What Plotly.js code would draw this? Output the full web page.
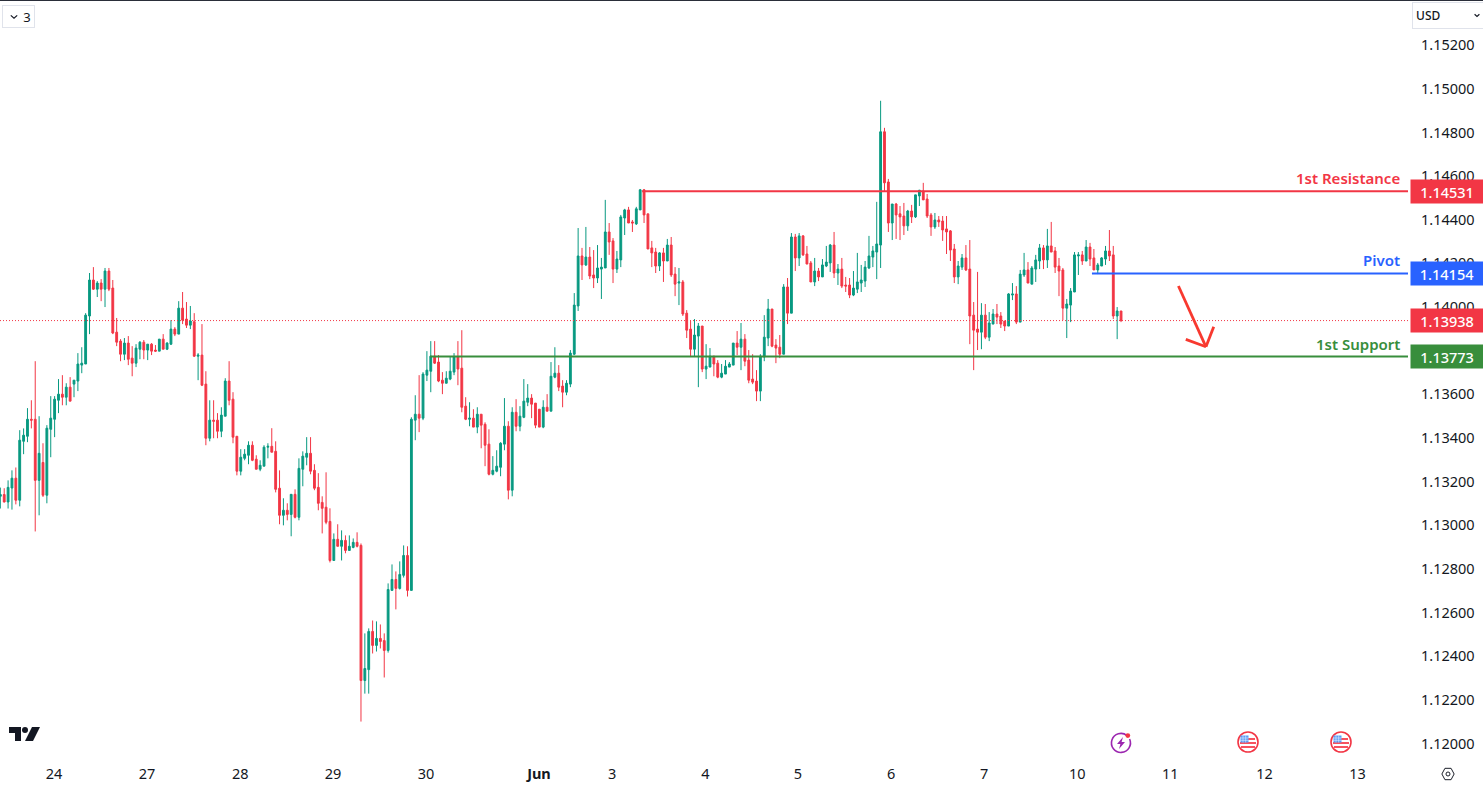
<!DOCTYPE html>
<html><head><meta charset="utf-8">
<script src="https://cdn.plot.ly/plotly-3.0.1.min.js"></script>
<style>html,body{margin:0;padding:0;background:#fff;overflow:hidden}
#top{position:absolute;left:0;top:0;width:1483px;height:1px;background:#2a2e39}
#chart{position:absolute;left:0;top:0;width:1483px;height:787px}
svg.ic{position:absolute;overflow:visible}</style></head>
<body>
<div id="chart"></div><div id="top"></div>
<svg class="ic" style="left:9px;top:726px" width="31" height="16" viewBox="0 0 31 16"><path fill="#131722" d="M0 1h12v14H6V7H0z"/><circle cx="16" cy="4" r="3" fill="#131722"/><path fill="#131722" d="M23 1h8l-7 14h-8z"/></svg>
<svg class="ic" style="left:1110px;top:732px" width="22" height="22" viewBox="0 0 22 22"><path d="M17 3.600A9.500 9.500 0 1 0 19.600 7" fill="none" stroke="#9c27b0" stroke-width="1.600"/><path fill="#9c27b0" d="M13 5l-6 7h3.400l-1.400 5 6-7h-3.400z"/><circle cx="17.800" cy="3.600" r="2.400" fill="#f23645"/></svg>
<svg class="ic" style="left:1237px;top:731px" width="22" height="22" viewBox="0 0 22 22"><defs><g id="flag"><circle cx="11" cy="11" r="10" fill="#fff" stroke="#f23645" stroke-width="1.600"/><path fill="#f7525f" d="M4 7h14v2H4zM3 11h16v2H3zM4 15h14v2H4z"/><path fill="#5b9cf6" d="M3.500 4.500h8v7h-8z"/><path stroke="#fff" stroke-width=".5" d="M3.500 7h8M3.500 9.300h8M6 4.500v7M8.700 4.500v7"/></g></defs><use href="#flag"/></svg>
<svg class="ic" style="left:1330px;top:731px" width="22" height="22" viewBox="0 0 22 22"><use href="#flag"/></svg>
<svg class="ic" style="left:1441px;top:766.500px" width="14" height="14" viewBox="0 0 16 16"><path fill="none" stroke="#131722" stroke-width="1.100" d="M4.500 1.500h7L15 8l-3.500 6.500h-7L1 8z"/><circle cx="8" cy="8" r="2.300" fill="none" stroke="#131722" stroke-width="1.100"/></svg>
<svg class="ic" style="left:10px;top:13.500px" width="8" height="6" viewBox="0 0 10 7"><path d="M1 1.500l4 3.500 4-3.500" fill="none" stroke="#131722" stroke-width="1.500"/></svg>
<svg class="ic" style="left:1474px;top:13px" width="6" height="5" viewBox="0 0 10 7"><path d="M1 1.500l4 3.500 4-3.500" fill="none" stroke="#131722" stroke-width="2"/></svg>
<script>
const opens=[1.13133,1.13141,1.13107,1.13171,1.13216,1.13115,1.13385,1.13408,1.13486,1.13486,
1.13206,1.13288,1.13138,1.13440,1.13486,1.13573,1.13601,1.13587,1.13633,1.13647,
1.13661,1.13734,1.13739,1.13959,1.14124,1.14082,1.14110,1.14082,1.14165,1.14087,
1.13885,1.13844,1.13784,1.13835,1.13766,1.13743,1.13807,1.13839,1.13803,1.13830,
1.13803,1.13798,1.13853,1.13807,1.13830,1.13899,1.13876,1.13995,1.13945,1.13917,
1.13933,1.13775,1.13780,1.13647,1.13399,1.13482,1.13482,1.13431,1.13500,1.13661,
1.13578,1.13408,1.13248,1.13307,1.13321,1.13367,1.13303,1.13257,1.13271,1.13358,
1.13362,1.13339,1.13170,1.13046,1.13069,1.13050,1.13142,1.13037,1.13257,1.13312,
1.13330,1.13252,1.13174,1.13105,1.13083,1.13018,1.12839,1.12936,1.12904,1.12931,
1.12885,1.12899,1.12922,1.12908,1.12289,1.12339,1.12514,1.12450,1.12482,1.12472,
1.12427,1.12702,1.12752,1.12711,1.12771,1.12862,1.12702,1.13482,1.13509,1.13491,
1.13688,1.13706,1.13775,1.13748,1.13665,1.13651,1.13670,1.13702,1.13771,1.13720,
1.13546,1.13486,1.13491,1.13450,1.13509,1.13463,1.13372,1.13234,1.13248,1.13266,
1.13372,1.13454,1.13161,1.13518,1.13454,1.13495,1.13564,1.13583,1.13560,1.13532,
1.13450,1.13541,1.13523,1.13679,1.13697,1.13638,1.13610,1.13647,1.13784,1.14005,
1.14234,1.14193,1.14229,1.14147,1.14133,1.14174,1.14179,1.14344,1.14303,1.14174,
1.14216,1.14408,1.14445,1.14390,1.14381,1.14445,1.14537,1.14427,1.14271,1.14252,
1.14188,1.14248,1.14211,1.14284,1.14151,1.14110,1.14115,1.13972,1.13899,1.13807,
1.13867,1.13913,1.13716,1.13725,1.13775,1.13743,1.13679,1.13693,1.13725,1.13734,
1.13835,1.13816,1.13853,1.13757,1.13670,1.13661,1.13615,1.13771,1.13858,1.13991,
1.13826,1.13816,1.13784,1.14092,1.13972,1.14321,1.14225,1.14326,1.14243,1.14202,
1.14115,1.14165,1.14138,1.14188,1.14202,1.14284,1.14156,1.14174,1.14101,1.14101,
1.14055,1.14082,1.14110,1.14119,1.14179,1.14229,1.14252,1.14284,1.14803,1.14573,
1.14385,1.14472,1.14427,1.14417,1.14372,1.14440,1.14413,1.14509,1.14532,1.14495,
1.14422,1.14367,1.14399,1.14394,1.14358,1.14349,1.14266,1.14138,1.14183,1.14225,
1.14174,1.13963,1.13899,1.13885,1.13963,1.13862,1.13922,1.13968,1.13959,1.13936,
1.13913,1.14055,1.14060,1.13931,1.14147,1.14170,1.14105,1.14174,1.14211,1.14271,
1.14216,1.14280,1.14257,1.14188,1.14170,1.13995,1.14009,1.14069,1.14234,1.14239,
1.14211,1.14275,1.14225,1.14170,1.14188,1.14220,1.14257,1.14239,1.13959,1.13982];
const highs=[1.13173,1.13170,1.13206,1.13252,1.13265,1.13436,1.13444,1.13537,1.13573,1.13752,
1.13500,1.13376,1.13459,1.13592,1.13592,1.13670,1.13688,1.13651,1.13679,1.13665,
1.13789,1.13816,1.13972,1.14156,1.14183,1.14119,1.14128,1.14179,1.14179,1.14124,
1.13950,1.13853,1.13858,1.13867,1.13821,1.13830,1.13844,1.13849,1.13830,1.13835,
1.13826,1.13853,1.13876,1.13839,1.13940,1.13908,1.14027,1.14069,1.14023,1.14005,
1.13972,1.13789,1.13922,1.13706,1.13573,1.13573,1.13514,1.13541,1.13674,1.13752,
1.13610,1.13408,1.13349,1.13349,1.13385,1.13385,1.13321,1.13298,1.13367,1.13376,
1.13445,1.13385,1.13252,1.13124,1.13101,1.13142,1.13165,1.13307,1.13339,1.13404,
1.13404,1.13280,1.13239,1.13133,1.13243,1.13078,1.12963,1.13005,1.12977,1.12954,
1.12954,1.12940,1.12968,1.12917,1.12505,1.12528,1.12564,1.12560,1.12546,1.12505,
1.12734,1.12821,1.12789,1.12835,1.12908,1.12904,1.13495,1.13596,1.13688,1.13702,
1.13798,1.13844,1.13844,1.13780,1.13702,1.13706,1.13771,1.13789,1.13844,1.13894,
1.13587,1.13564,1.13532,1.13541,1.13509,1.13472,1.13440,1.13317,1.13344,1.13381,
1.13583,1.13477,1.13541,1.13578,1.13546,1.13670,1.13647,1.13601,1.13560,1.13532,
1.13573,1.13601,1.13748,1.13816,1.13734,1.13665,1.13665,1.13803,1.14064,1.14362,
1.14271,1.14367,1.14275,1.14261,1.14284,1.14225,1.14491,1.14385,1.14316,1.14257,
1.14422,1.14450,1.14459,1.14399,1.14459,1.14541,1.14541,1.14427,1.14303,1.14271,
1.14252,1.14271,1.14312,1.14321,1.14183,1.14179,1.14124,1.13986,1.13936,1.13945,
1.13927,1.13913,1.13830,1.13812,1.13775,1.13757,1.13739,1.13757,1.13748,1.13835,
1.13890,1.13927,1.13876,1.13803,1.13784,1.13711,1.13784,1.13963,1.14037,1.13991,
1.13853,1.13872,1.14105,1.14133,1.14339,1.14335,1.14339,1.14330,1.14280,1.14211,
1.14225,1.14179,1.14220,1.14280,1.14289,1.14344,1.14197,1.14225,1.14138,1.14133,
1.14165,1.14248,1.14193,1.14211,1.14326,1.14280,1.14482,1.14945,1.14821,1.14587,
1.14472,1.14477,1.14463,1.14477,1.14445,1.14468,1.14514,1.14537,1.14569,1.14518,
1.14431,1.14431,1.14417,1.14417,1.14417,1.14353,1.14289,1.14211,1.14243,1.14284,
1.14307,1.14023,1.14161,1.14018,1.14014,1.13977,1.13991,1.14014,1.13977,1.13936,
1.14064,1.14110,1.14096,1.14170,1.14248,1.14206,1.14188,1.14239,1.14289,1.14284,
1.14358,1.14390,1.14275,1.14225,1.14179,1.14037,1.14087,1.14252,1.14252,1.14257,
1.14307,1.14294,1.14266,1.14202,1.14229,1.14280,1.14353,1.14280,1.14000,1.13982];
const lows=[1.13077,1.13105,1.13077,1.13072,1.13096,1.13087,1.13326,1.13381,1.13444,1.12972,
1.13046,1.13130,1.13101,1.13312,1.13404,1.13514,1.13550,1.13550,1.13569,1.13587,
1.13615,1.13697,1.13739,1.13876,1.14078,1.14046,1.14027,1.14000,1.14073,1.13876,
1.13821,1.13752,1.13757,1.13734,1.13683,1.13725,1.13761,1.13761,1.13757,1.13780,
1.13794,1.13798,1.13807,1.13803,1.13826,1.13867,1.13876,1.13922,1.13904,1.13899,
1.13771,1.13665,1.13638,1.13367,1.13385,1.13399,1.13399,1.13404,1.13500,1.13550,
1.13376,1.13229,1.13229,1.13298,1.13280,1.13294,1.13257,1.13248,1.13271,1.13307,
1.13335,1.13151,1.13005,1.13000,1.13023,1.12950,1.13032,1.13023,1.13179,1.13275,
1.13234,1.13161,1.13069,1.12963,1.13005,1.12830,1.12839,1.12904,1.12839,1.12872,
1.12885,1.12895,1.12899,1.12101,1.12229,1.12229,1.12413,1.12422,1.12436,1.12303,
1.12417,1.12702,1.12615,1.12706,1.12761,1.12674,1.12702,1.13390,1.13427,1.13482,
1.13661,1.13610,1.13739,1.13656,1.13601,1.13651,1.13665,1.13688,1.13642,1.13518,
1.13482,1.13454,1.13450,1.13422,1.13353,1.13271,1.13229,1.13229,1.13243,1.13225,
1.13344,1.13119,1.13133,1.13431,1.13431,1.13491,1.13546,1.13491,1.13445,1.13450,
1.13445,1.13523,1.13523,1.13674,1.13615,1.13541,1.13596,1.13633,1.13780,1.13982,
1.14124,1.14188,1.14128,1.14087,1.14110,1.14037,1.14179,1.14239,1.14110,1.14156,
1.14183,1.14330,1.14385,1.14344,1.14376,1.14445,1.14385,1.14266,1.14183,1.14156,
1.14165,1.14115,1.14211,1.14138,1.14050,1.14009,1.13959,1.13858,1.13771,1.13771,
1.13633,1.13702,1.13670,1.13725,1.13683,1.13674,1.13674,1.13693,1.13725,1.13734,
1.13780,1.13711,1.13729,1.13651,1.13647,1.13569,1.13569,1.13752,1.13821,1.13816,
1.13743,1.13766,1.13784,1.13922,1.13972,1.14165,1.14188,1.14234,1.14197,1.14115,
1.14096,1.14119,1.14138,1.14183,1.14161,1.14133,1.14101,1.14087,1.14069,1.14041,
1.14050,1.14064,1.14069,1.14092,1.14174,1.14183,1.14128,1.14179,1.14532,1.14344,
1.14307,1.14312,1.14307,1.14330,1.14349,1.14385,1.14408,1.14463,1.14491,1.14408,
1.14326,1.14358,1.14367,1.14303,1.14243,1.14211,1.14110,1.14105,1.14170,1.14165,
1.13830,1.13711,1.13803,1.13807,1.13853,1.13844,1.13922,1.13922,1.13904,1.13890,
1.13913,1.14032,1.13922,1.13931,1.14138,1.14110,1.14105,1.14115,1.14174,1.14174,
1.14179,1.14252,1.14156,1.14050,1.13940,1.13858,1.13931,1.14069,1.14147,1.14193,
1.14211,1.14188,1.14170,1.14151,1.14188,1.14193,1.14211,1.13945,1.13853,1.13931];
const closes=[1.13141,1.13107,1.13174,1.13216,1.13115,1.13390,1.13413,1.13486,1.13482,1.13206,
1.13330,1.13138,1.13445,1.13491,1.13578,1.13601,1.13587,1.13633,1.13569,1.13665,
1.13739,1.13743,1.13963,1.14124,1.14082,1.14110,1.14082,1.14165,1.14082,1.13881,
1.13839,1.13784,1.13835,1.13761,1.13743,1.13812,1.13839,1.13803,1.13830,1.13798,
1.13798,1.13853,1.13807,1.13835,1.13899,1.13876,1.13995,1.13940,1.13917,1.13936,
1.13775,1.13780,1.13642,1.13399,1.13482,1.13477,1.13431,1.13505,1.13661,1.13573,
1.13404,1.13248,1.13312,1.13326,1.13367,1.13298,1.13257,1.13275,1.13358,1.13362,
1.13335,1.13165,1.13046,1.13069,1.13050,1.13142,1.13037,1.13261,1.13317,1.13330,
1.13248,1.13170,1.13101,1.13078,1.13014,1.12839,1.12936,1.12904,1.12931,1.12885,
1.12904,1.12922,1.12904,1.12289,1.12344,1.12514,1.12450,1.12482,1.12468,1.12427,
1.12706,1.12752,1.12711,1.12775,1.12862,1.12702,1.13486,1.13509,1.13491,1.13693,
1.13711,1.13775,1.13743,1.13661,1.13651,1.13674,1.13706,1.13771,1.13716,1.13541,
1.13486,1.13491,1.13450,1.13509,1.13459,1.13367,1.13234,1.13252,1.13271,1.13376,
1.13454,1.13161,1.13518,1.13454,1.13500,1.13569,1.13583,1.13555,1.13459,1.13450,
1.13541,1.13523,1.13683,1.13697,1.13633,1.13610,1.13651,1.13789,1.14009,1.14234,
1.14193,1.14229,1.14142,1.14133,1.14179,1.14183,1.14344,1.14298,1.14174,1.14220,
1.14413,1.14445,1.14385,1.14385,1.14450,1.14537,1.14422,1.14266,1.14248,1.14188,
1.14248,1.14211,1.14284,1.14147,1.14105,1.14115,1.13968,1.13894,1.13807,1.13872,
1.13913,1.13716,1.13729,1.13775,1.13739,1.13679,1.13697,1.13729,1.13739,1.13835,
1.13816,1.13853,1.13752,1.13665,1.13656,1.13615,1.13775,1.13862,1.13991,1.13821,
1.13812,1.13784,1.14092,1.13972,1.14321,1.14225,1.14326,1.14239,1.14197,1.14115,
1.14165,1.14138,1.14193,1.14206,1.14284,1.14156,1.14174,1.14096,1.14096,1.14055,
1.14087,1.14115,1.14124,1.14183,1.14234,1.14257,1.14289,1.14803,1.14569,1.14385,
1.14472,1.14422,1.14413,1.14372,1.14440,1.14413,1.14514,1.14535,1.14491,1.14417,
1.14367,1.14399,1.14390,1.14353,1.14344,1.14261,1.14138,1.14188,1.14225,1.14170,
1.13959,1.13894,1.13885,1.13963,1.13862,1.13927,1.13968,1.13954,1.13922,1.13913,
1.14060,1.14060,1.13931,1.14151,1.14170,1.14110,1.14179,1.14216,1.14271,1.14216,
1.14280,1.14252,1.14183,1.14165,1.13995,1.14014,1.14073,1.14239,1.14239,1.14211,
1.14275,1.14220,1.14170,1.14193,1.14225,1.14257,1.14234,1.13959,1.13982,1.13938];

const dateTickLabels=['24','27','28','29','30','<b>Jun</b>','3','4','5','6','7','10','11','12','13'];
const dateTickBars=[13.84,37.83,61.9,85.8,109.8,138.9,157.8,181.8,205.7,229.7,253.7,277.7,301.7,326,350];
const priceTicks=[1.12,1.122,1.124,1.126,1.128,1.13,1.132,1.134,1.136,1.138,1.14,1.142,1.144,1.146,1.148,1.15,1.152];
const levelNames=['1st Resistance','Pivot','1st Support'];
const levelPrices=[1.14531,1.14154,1.13773];
const levelStartBars=[165.5,281.5,110.8];
const levelColors=['#f23645','#2962ff','#388e3c'];
const lastPrice=1.13938;
const arrowTail=[303.8,1.140963], arrowTip=[310.9,1.138179], arrowHeadA=[305.7,1.138518], arrowHeadB=[312.9,1.139096];

const GREEN='#089981', RED='#f23645', TXT='#131722', FONT='"Noto Sans", sans-serif';
const PW=1408;
const xr=[-0.085,363], yr=[1.119158,1.154067];
const bars=opens.map((_,i)=>i);
const trace={type:'candlestick',x:bars,open:opens,high:highs,low:lows,close:closes,whiskerwidth:0,hoverinfo:'skip',
 increasing:{line:{color:GREEN,width:1},fillcolor:GREEN},decreasing:{line:{color:RED,width:1},fillcolor:RED}};

const seg=(a,b,c,w,dash)=>({type:'line',xref:'x',yref:'y',x0:a[0],y0:a[1],x1:b[0],y1:b[1],line:{color:c,width:w,dash:dash||'solid'}});
const shapes=[seg([xr[0],lastPrice],[xr[1],lastPrice],RED,1,'1px,2px')];
levelPrices.forEach((p,i)=>shapes.push(seg([levelStartBars[i],p],[xr[1],p],levelColors[i],2)));
const ARROW='#f8392f';
shapes.push(seg(arrowTail,arrowTip,ARROW,2.8),seg(arrowHeadA,arrowTip,ARROW,2.8),seg(arrowHeadB,arrowTip,ARROW,2.8));

const pill=(t,p,c)=>({xref:'paper',yref:'y',x:1410/PW,y:p,xanchor:'left',yanchor:'middle',text:t,showarrow:false,width:72,height:23,bgcolor:c,borderpad:0,font:{family:FONT,size:14.5,color:'#fff',weight:500},align:'center'});
const annotations=[];
levelPrices.forEach((p,i)=>{
 annotations.push({xref:'paper',yref:'y',x:1401/PW,y:p,xanchor:'right',yanchor:'bottom',yshift:2,text:levelNames[i],showarrow:false,borderpad:0,font:{family:FONT,size:15,color:levelColors[i],weight:600}});
 annotations.push(pill(p.toFixed(5),p,levelColors[i]));
});
annotations.push(pill(lastPrice.toFixed(5),lastPrice,RED));
annotations.push({xref:'paper',yref:'paper',x:1448/PW,y:1-15.5/762,xanchor:'center',yanchor:'middle',text:'&nbsp;USD',showarrow:false,width:70,height:25,align:'left',bordercolor:'#e0e3eb',borderwidth:1,borderpad:0,font:{family:FONT,size:12,color:TXT,weight:500}});
annotations.push({xref:'paper',yref:'paper',x:18.5/PW,y:1-16.5/762,xanchor:'center',yanchor:'middle',text:'     3',showarrow:false,width:31,height:21,bordercolor:'#e0e3eb',borderwidth:1,borderpad:0,font:{family:FONT,size:13,color:TXT}});

const layout={width:1483,height:787,margin:{l:0,r:75,t:0,b:25,pad:0},paper_bgcolor:'#fff',plot_bgcolor:'#fff',showlegend:false,dragmode:false,
 xaxis:{type:'linear',range:xr,fixedrange:true,rangeslider:{visible:false},showgrid:false,zeroline:false,showline:false,tickmode:'array',tickvals:dateTickBars,ticktext:dateTickLabels,ticks:'',tickangle:0,tickfont:{family:FONT,size:14.5,color:TXT},ticklabelstandoff:1},
 yaxis:{type:'linear',side:'right',range:yr,fixedrange:true,showgrid:false,zeroline:false,showline:false,tickmode:'array',tickvals:priceTicks,ticktext:priceTicks.map(v=>v.toFixed(5)),ticks:'',tickfont:{family:FONT,size:14.5,color:TXT},ticklabelstandoff:12},
 shapes,annotations,boxgap:0.33};
Plotly.newPlot('chart',[trace],layout,{displayModeBar:false,staticPlot:true});
</script>
</body></html>
